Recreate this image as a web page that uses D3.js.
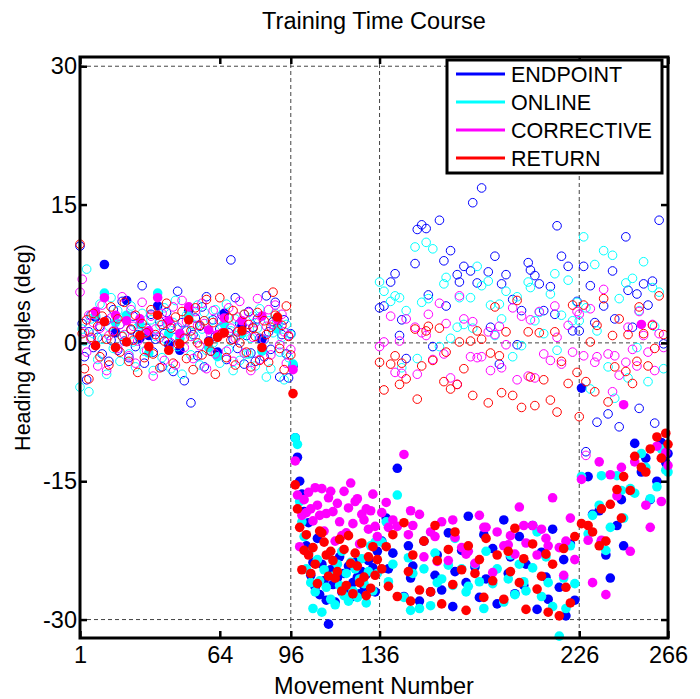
<!DOCTYPE html>
<html>
<head>
<meta charset="utf-8">
<script src="https://cdn.jsdelivr.net/npm/d3@7"></script>
<style>
  body { margin: 0; background: #fff; }
  svg { display: block; }
  text { font-family: "Liberation Sans", Arial, Helvetica, sans-serif; fill: #000; }
</style>
</head>
<body>
<svg id="chart" width="700" height="699"></svg>
<script>
// ---- axis settings ----
const xTicks = [1, 64, 96, 136, 226, 266];
const yTicks = [-30, -15, 0, 15, 30];
const gridX = [96, 136, 226];
const gridY = [-30, 0, 30];

// ---- series ----
const seriesNames = ["ENDPOINT", "ONLINE", "CORRECTIVE", "RETURN"];
const seriesColors = ["#0000ff", "#00ffff", "#ff00ff", "#ff0000"];

// marker style per movement: o = open circle, f = filled circle
const markerType = [
  "ooooooofoo", "ofoooofooo", "ofooooofoo", "ofooofoooo", "foooofooof",   // 1-50
  "oooooooofo", "oofoofoooo", "ooofoooooo", "oofoooooof", "oooooo",       // 51-96
  "ffffffffff", "ffffffffff", "ffffffffff", "fffffffff",                  // 97-135
  "ofoffofofo", "ofofffoofo", "foofoffofo", "ofoffoofof", "foofofoffo",   // 136-185
  "ofofoofoff", "ofofoffoof", "ofofoffofo", "ofoffofofo",                 // 186-225
  "ofoofofoof", "fofofoofof", "foofofoofo", "fofoofofof", "f"             // 226-266
].join("");

// heading angles (deg), one value per movement 1..266
const endpoint = [
  10.5, 2.1, -1.5, -4.0, 1.2, 3.0, -0.5, 2.8, 0.6, 1.8,
  -1.2, 8.5, 2.4, -2.0, 0.3, 3.6, 1.1, -0.8, 2.0, 4.5,
  0.2, 4.6, -1.6, 1.4, 2.9, -0.4, 0.9, 0.5, 6.2, -2.2,
  1.6, 0.8, 3.1, -1.0, 0.4, 4.0, 2.3, -2.6, 1.0, 3.3,
  -0.2, 1.9, -3.1, 0.6, 5.6, -0.8, 2.2, -4.1, 1.3, 3.5,
  -6.5, 0.9, 2.7, -1.4, 1.8, 3.9, -2.6, 5.0, 0.2, -0.9,
  2.5, 0.7, -1.0, 1.5, 3.0, 3.2, -1.8, 1.1, 9.0, 0.4,
  4.9, -0.6, 2.1, 1.9, -2.3, 0.8, 3.4, -1.1, 1.7, -2.0,
  2.6, 0.5, 0.4, -1.5, 5.1, 1.2, -0.7, 2.3, 4.4, 1.6,
  -3.7, 0.9, 2.5, -1.2, -3.8, 1.0,
  -2.5, -10.3, -12.4, -15.0, -16.4, -18.3, -22.0, -19.5, -25.2, -23.8,
  -26.5, -21.2, -27.3, -24.0, -25.8, -27.9, -30.5, -24.6, -26.2, -28.1,
  -25.5, -23.2, -27.0, -25.0, -26.8, -24.2, -27.6, -26.0, -23.8, -25.4,
  -27.2, -24.8, -26.4, -25.1, -23.6, -26.9, -24.4, -27.0, -22.6,
  3.8, -21.5, 4.0, -19.0, -24.5, 6.6, -22.8, 7.5, -13.6, 0.8,
  2.5, -27.5, -1.7, -22.0, -25.5, -24.2, 8.6, 12.3, -28.0, 12.8,
  -21.5, 12.4, 5.2, -27.0, -0.4, -25.2, -23.0, 13.3, -26.8, 8.9,
  4.0, -20.6, 10.0, -28.6, -24.8, 7.4, 6.6, -22.5, 8.3, -26.0,
  -18.8, 7.8, 15.2, -24.3, 6.5, -27.6, 16.8, -20.8, -25.6, 7.7,
  1.7, -22.3, 9.4, -28.3, -2.3, 6.4, -19.2, 7.4, -25.0, -23.2,
  4.7, -27.2, -0.2, -21.0, 3.5, -26.3, -24.0, 8.7, 7.9, -19.8,
  7.3, -28.9, 6.4, -22.7, 3.5, -25.4, -27.8, 6.1, -20.2, 3.1,
  12.7, -26.5, 9.4, -23.5, -29.6, 8.3, -21.8, 1.3, -27.9, 4.5,
  1.3, -4.9, 8.3, -11.8, -14.5, 6.2, -18.6, 2.2, -8.6, -18.2,
  -21.5, 4.0, -23.0, -7.7, -25.5, 7.8, 2.6, -19.8, -9.1, -17.0,
  -22.0, 11.5, 5.7, -16.0, 1.7, -10.9, 5.3, -7.1, -14.0, 6.4,
  -12.5, 4.1, -17.0, 6.7, -8.7, -15.0, 13.3, -10.8, -0.1, -13.0,
  -12.0
];

const online = [
  -4.8, 1.5, 0.2, 8.0, -5.3, 2.6, 1.0, 3.0, -1.8, 4.2,
  0.4, 5.4, -3.4, 1.8, 4.9, -0.6, 2.2, 3.5, -2.0, 0.8,
  2.8, 3.0, -1.2, 4.0, 0.1, -2.6, 1.7, 2.0, 3.2, -0.9,
  1.2, -1.1, 2.5, -3.0, 0.7, 5.4, 1.9, -1.6, 3.8, 0.3,
  1.0, -2.8, 2.2, 4.6, -0.4, 0.5, -3.4, 1.4, 3.0, 2.9,
  -1.3, 2.0, 0.6, 4.1, -2.4, 1.5, 3.3, -0.8, -0.5, 2.4,
  0.0, 3.6, -1.5, -2.2, 1.8, 2.0, 4.2, -0.7, 1.3, -3.0,
  2.6, 0.8, -1.9, 1.0, 3.1, -1.2, -1.2, 0.5, 2.9, -2.5,
  1.6, 3.7, -0.9, 0.3, -3.7, 2.4, -2.8, 1.1, 3.2, 1.5,
  -1.0, 0.6, -4.0, 2.0, -1.6, 0.9,
  -2.3, -10.3, -11.0, -17.2, -19.4, -21.0, -24.5, -22.8, -26.0, -28.8,
  -27.0, -23.5, -25.8, -29.2, -24.6, -26.5, -23.0, -27.8, -25.3, -28.4,
  -24.0, -26.3, -22.6, -27.4, -25.0, -28.0, -23.8, -26.9, -24.5, -27.6,
  -25.6, -23.4, -26.1, -28.2, -24.8, -22.0, -26.9, -21.6, -25.0,
  6.6, -21.6, 5.6, -19.4, -25.9, 4.5, -24.0, 5.1, -16.5, 4.9,
  -2.7, -27.6, 3.5, -23.3, -29.0, -25.0, 10.4, -1.7, -28.8, 4.4,
  -24.5, 10.9, 4.8, -28.5, 10.2, -22.8, -26.0, -0.4, -25.6, 6.4,
  7.1, -24.1, 0.5, -26.3, -21.2, 1.7, 4.9, -24.5, 2.0, -27.0,
  -26.4, 4.9, 1.6, -24.0, 8.3, -25.9, 6.2, -28.8, -22.6, 6.7,
  4.1, -26.1, 0.8, -24.5, 4.2, 2.6, -28.1, 5.6, -25.6, -23.0,
  -1.5, -27.3, 5.0, -24.0, -0.3, -25.9, -26.9, 6.6, 6.0, -24.4,
  2.4, -20.5, 3.3, -27.5, 1.0, -23.2, -26.0, 5.3, -28.6, 7.5,
  -0.8, -31.8, 3.0, -25.5, -28.8, 6.8, -22.0, 2.4, -26.1, 4.4,
  2.4, -14.5, 11.5, 3.8, -20.7, -5.0, -18.7, 8.5, 1.3, -17.6,
  -14.4, 10.0, -22.5, -2.6, -20.0, 9.5, -6.0, -14.4, 4.8, -16.0,
  -19.0, 6.5, -3.8, -15.8, 7.0, -16.3, -0.5, 3.5, -12.0, 8.8,
  -13.5, -4.2, -16.9, 6.0, 1.8, -15.6, 5.5, -11.5, -2.8, -13.8,
  -14.0
];

const corrective = [
  5.5, 6.9, 1.2, -1.0, 3.0, 0.4, 2.2, 3.4, -2.5, 1.6,
  4.1, 4.9, -3.0, 0.8, 2.7, 1.3, 3.0, -0.6, 2.0, 5.0,
  0.9, 2.4, -1.4, 3.6, 1.8, -2.2, 0.2, 2.6, 4.4, 1.0,
  -0.8, 1.3, 2.9, -3.6, 1.5, 4.9, 0.6, 3.2, -1.9, 2.1,
  2.4, 0.0, 3.9, -2.4, 1.7, 1.0, 4.6, -0.5, 2.3, 3.9,
  0.7, -1.7, 3.4, 1.9, -0.3, 4.3, 2.1, -2.8, 1.4, 0.9,
  3.5, -1.2, 0.9, 2.5, 1.1, 2.7, -0.9, 3.8, 1.6, -2.0,
  0.5, 2.8, 4.5, 2.4, -1.1, 1.5, 3.3, -3.0, 0.6, 2.2,
  4.8, -1.8, 2.9, 0.4, 1.8, 3.6, -1.3, 2.0, 4.1, 2.5,
  -0.2, 3.1, 1.2, -2.2, 0.8, -0.7,
  -2.9, -12.8, -16.5, -22.1, -18.7, -17.0, -18.4, -16.2, -18.0, -19.3,
  -15.7, -17.6, -18.7, -15.8, -20.4, -18.5, -16.8, -16.1, -18.3, -21.5,
  -17.4, -19.4, -20.9, -16.1, -20.6, -17.9, -15.2, -19.6, -17.2, -16.9,
  -21.8, -18.6, -19.2, -18.0, -20.2, -18.2, -16.4, -19.9, -21.0,
  -0.4, -18.4, 0.1, -17.3, -20.0, 2.9, -19.2, -3.2, -19.9, 0.2,
  -3.3, -12.1, 2.6, -20.8, -18.2, -19.8, 1.7, -3.4, -18.6, 1.1,
  -23.2, 0.8, 3.1, -20.5, -1.8, -21.0, -23.7, 4.3, -19.4, -1.2,
  2.1, -23.6, -3.8, -19.2, -21.1, -4.5, 5.1, -22.2, 2.6, -22.9,
  -22.6, -1.5, 2.3, -23.9, -1.6, -18.7, -1.5, -20.0, -20.0, 1.2,
  -3.0, -24.9, 0.9, -20.5, 1.8, -2.7, -22.0, -0.2, -21.9, -20.9,
  3.8, -22.9, -4.0, -17.8, 2.9, -19.8, -21.7, -3.6, 2.5, -19.8,
  -3.8, -23.0, 3.4, -20.2, -1.2, -21.2, -22.0, -1.9, -16.8, 4.0,
  0.6, -22.2, -2.3, -25.2, -21.5, 1.9, -19.0, -1.0, -23.5, 3.4,
  3.1, -14.8, -1.4, -12.2, -21.4, 3.7, -26.0, -2.1, -1.5, -12.9,
  -21.4, 5.8, -27.3, -1.2, -14.3, -5.3, -1.4, -16.6, -3.5, -13.5,
  -6.7, -2.1, 1.7, -22.6, -0.7, -12.9, -2.5, 3.4, 2.0, 0.8,
  -17.6, -1.0, -20.0, 2.0, -3.0, -11.2, 1.0, -17.2, -0.5, -11.9,
  -13.3
];

const returnPhase = [
  10.7, 1.0, -2.8, 2.5, -3.9, 0.6, 3.2, -0.3, 1.8, -1.5,
  2.9, 2.3, 0.4, -2.4, 3.9, 1.2, -0.5, 2.6, -1.0, 0.7,
  4.4, 0.1, -2.0, 1.5, 0.3, 3.0, -3.2, 0.8, 2.1, -1.6,
  1.1, -0.4, 3.6, -1.2, 0.9, 3.0, -2.7, 2.0, 0.2, 4.3,
  -0.8, 1.6, -2.2, 2.8, -0.1, -0.1, 3.4, 0.5, -1.7, 2.5,
  1.3, -2.9, 3.8, 0.0, 1.9, -1.3, 2.4, 4.7, 0.1, -0.9,
  2.2, -3.4, 0.6, 4.9, 1.0, 1.1, -1.6, 2.7, 0.3, 3.5,
  -2.4, 1.2, 0.0, 1.3, 3.1, -1.0, 2.0, -2.6, 1.6, 0.7,
  3.3, -1.9, -0.5, 2.4, 0.9, -2.1, 1.7, 5.5, 3.0, 2.8,
  -0.6, 1.9, -2.9, 4.0, 0.7, -1.3,
  -5.5, -15.4, -18.0, -20.0, -24.6, -22.5, -20.8, -23.0, -25.0, -22.2,
  -24.0, -26.1, -20.4, -20.6, -21.6, -23.0, -25.3, -22.6, -23.6, -25.5,
  -24.8, -21.3, -26.9, -22.4, -26.3, -20.9, -23.9, -27.2, -22.8, -24.2,
  -26.0, -21.7, -25.4, -27.4, -23.2, -26.6, -22.1, -25.2, -23.5,
  -2.1, -24.5, -5.1, -22.1, -26.4, -2.3, -20.8, -1.4, -27.5, -4.5,
  -2.2, -19.5, -3.9, -24.8, -28.0, -23.0, 1.5, -6.1, -26.8, -2.5,
  -21.5, 1.3, 1.8, -27.0, -1.9, -19.8, -23.6, 1.6, -28.3, -4.2,
  -1.0, -22.4, -5.0, -26.2, -20.5, -4.5, 0.1, -24.6, -2.8, -29.0,
  -22.0, 0.2, -5.7, -25.0, 1.3, -23.5, 0.4, -27.6, -21.2, -6.5,
  -1.1, -25.8, 3.9, -23.0, -1.4, -5.4, -27.8, 1.2, -22.6, -24.8,
  -5.7, -20.1, 4.6, -26.0, -7.0, -23.4, -28.9, 1.2, -3.7, -21.8,
  -6.8, -26.7, 1.1, -25.3, -4.0, -22.9, -29.2, -6.2, -24.0, 1.2,
  -7.5, -29.6, -2.0, -22.3, -26.5, -4.4, -28.2, 4.1, -21.0, -3.2,
  -8.0, -19.6, 4.1, -4.2, -19.8, 0.1, -20.5, -5.3, 1.9, -22.0,
  -18.0, 4.8, -21.5, -6.4, -17.5, 0.8, -2.6, -15.9, 2.6, -19.0,
  -14.5, -3.1, 0.9, -16.0, -4.4, -12.3, -2.0, 3.9, -13.5, 1.0,
  -14.0, -2.5, -11.5, 1.9, -0.6, -10.2, 5.1, -12.5, 0.9, -9.8,
  -11.0
];

const seriesValues = [endpoint, online, corrective, returnPhase];

// ---- layout ----
const svg = d3.select("#chart");
const plot = { left: 80, right: 668, top: 57, bottom: 638 };

const x = d3.scaleLinear().domain([1, 266]).range([plot.left, plot.right]);
const y = d3.scaleLinear().domain([-32, 31]).range([plot.bottom, plot.top]);

// dashed grid lines
const grid = svg.append("g").attr("stroke", "#444").attr("stroke-width", 1).attr("stroke-dasharray", "4,3");
grid.selectAll("line.gx").data(gridX).join("line")
  .attr("x1", d => x(d)).attr("x2", d => x(d))
  .attr("y1", plot.top).attr("y2", plot.bottom);
grid.selectAll("line.gy").data(gridY).join("line")
  .attr("y1", d => y(d)).attr("y2", d => y(d))
  .attr("x1", plot.left).attr("x2", plot.right);

// data markers, one group per series (later series drawn on top)
const marks = svg.append("g");
seriesValues.forEach((vals, si) => {
  const pts = vals.map((v, i) => ({ n: i + 1, v, filled: markerType[i] === "f" }));
  marks.append("g").selectAll("circle").data(pts).join("circle")
    .attr("cx", d => x(d.n))
    .attr("cy", d => y(d.v))
    .attr("r", d => d.filled ? 4.8 : 4.3)
    .attr("fill", d => d.filled ? seriesColors[si] : "none")
    .attr("stroke", seriesColors[si])
    .attr("stroke-width", d => d.filled ? 0 : 1);
});

// axes frame and ticks
const frame = svg.append("g");
const tickFont = "23.5px";
const plainNumber = d => String(d);

const xAxisB = d3.axisBottom(x).tickValues(xTicks).tickSize(-7).tickPadding(8).tickFormat(plainNumber);
const xAxisT = d3.axisTop(x).tickValues(xTicks).tickSize(-7).tickFormat("");
const yAxisL = d3.axisLeft(y).tickValues(yTicks).tickSize(-7).tickPadding(3).tickFormat(plainNumber);
const yAxisR = d3.axisRight(y).tickValues(yTicks).tickSize(-7).tickFormat("");

function styleAxis(sel) {
  sel.select(".domain").remove();
  sel.selectAll(".tick line").attr("stroke", "#000").attr("stroke-width", 2.5);
  sel.selectAll(".tick text").attr("font-size", tickFont).attr("fill", "#000")
    .attr("font-family", '"Liberation Sans", Arial, sans-serif');
}

frame.append("g").attr("transform", `translate(0,${plot.bottom})`).call(xAxisB).call(styleAxis);
frame.append("g").attr("transform", `translate(0,${plot.top})`).call(xAxisT).call(styleAxis);
frame.append("g").attr("transform", `translate(${plot.left},0)`).call(yAxisL).call(styleAxis);
frame.append("g").attr("transform", `translate(${plot.right},0)`).call(yAxisR).call(styleAxis);

frame.append("rect")
  .attr("x", plot.left).attr("y", plot.top)
  .attr("width", plot.right - plot.left).attr("height", plot.bottom - plot.top)
  .attr("fill", "none").attr("stroke", "#000").attr("stroke-width", 3);

// legend
const legend = svg.append("g").attr("transform", "translate(447,60)");
legend.append("rect").attr("width", 215).attr("height", 113)
  .attr("fill", "#fff").attr("stroke", "#000").attr("stroke-width", 3);
seriesNames.forEach((name, i) => {
  const cy = 14 + i * 28;
  legend.append("line").attr("x1", 9).attr("x2", 58).attr("y1", cy).attr("y2", cy)
    .attr("stroke", seriesColors[i]).attr("stroke-width", 3);
  legend.append("text").attr("x", 64).attr("y", cy).attr("dy", "0.36em")
    .attr("font-size", "21.5px").text(name);
});

// titles
svg.append("text").attr("x", (plot.left + plot.right) / 2).attr("y", 29)
  .attr("text-anchor", "middle").attr("font-size", "23.5px").text("Training Time Course");
svg.append("text").attr("x", (plot.left + plot.right) / 2).attr("y", 694)
  .attr("text-anchor", "middle").attr("font-size", "23.5px").text("Movement Number");
svg.append("text").attr("transform", `translate(30,${(plot.top + plot.bottom) / 2}) rotate(-90)`)
  .attr("text-anchor", "middle").attr("font-size", "21.5px").text("Heading Angles (deg)");
</script>
</body>
</html>
